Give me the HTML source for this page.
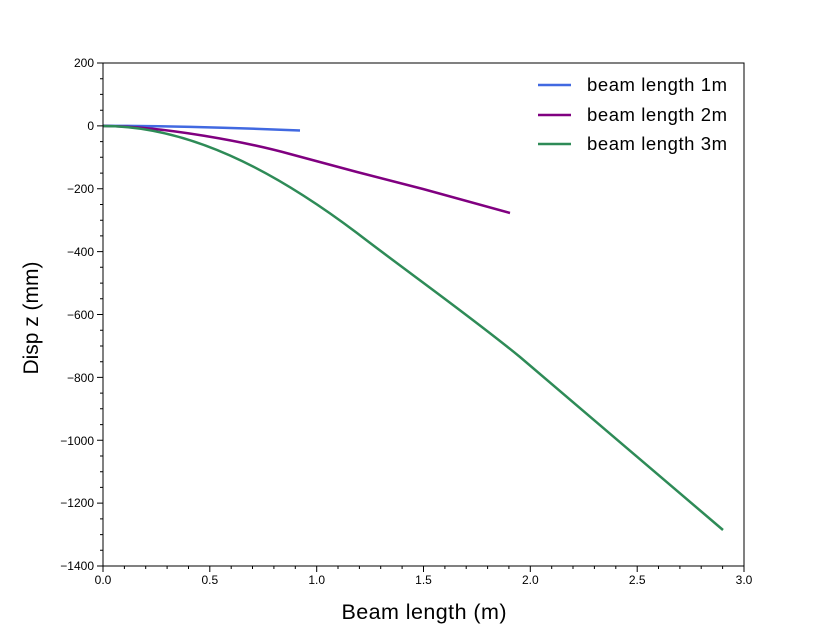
<!DOCTYPE html>
<html><head><meta charset="utf-8"><style>body{margin:0;background:#fff}svg{display:block}</style></head>
<body>
<svg width="827" height="630" xmlns="http://www.w3.org/2000/svg" font-family="Liberation Sans, Arial, sans-serif">
<rect width="827" height="630" fill="#fff"/>
<g fill="none" stroke-width="2.5" stroke-linejoin="round">
<path stroke="#4169e1" d="M103,125.7 Q200,126.3 300,130.5"/>
<path stroke="#800080" d="M103,126 C165,126 250,143 290,154 L357,172 L423,189 L510,213"/>
<path stroke="#2e8b57" d="M103,126 C188,126 272,169 357,233 C405,270 470,316 520,357 L723,530"/>
</g>
<rect x="103" y="63" width="641" height="503" fill="none" stroke="#000" stroke-width="1"/>
<g stroke="#000" stroke-width="1">
<path d="M103 566v6M209.8 566v6M316.7 566v6M423.5 566v6M530.3 566v6M637.2 566v6M744 566v6"/>
<path d="M124.4 566v3M145.7 566v3M167.1 566v3M188.5 566v3M231.2 566v3M252.5 566v3M273.9 566v3M295.3 566v3M338 566v3M359.4 566v3M380.7 566v3M402.1 566v3M444.9 566v3M466.2 566v3M487.6 566v3M508.9 566v3M551.7 566v3M573 566v3M594.4 566v3M615.8 566v3M658.5 566v3M679.9 566v3M701.2 566v3M722.6 566v3"/>
<path d="M97 63h6M97 125.9h6M97 188.8h6M97 251.6h6M97 314.5h6M97 377.4h6M97 440.3h6M97 503.1h6M97 566h6"/>
<path d="M100 78.7h3M100 94.4h3M100 110.2h3M100 141.6h3M100 157.3h3M100 173.1h3M100 204.5h3M100 220.2h3M100 235.9h3M100 267.3h3M100 283.1h3M100 298.8h3M100 330.2h3M100 346h3M100 361.7h3M100 393.1h3M100 408.8h3M100 424.6h3M100 456h3M100 471.7h3M100 487.4h3M100 518.9h3M100 534.6h3M100 550.3h3"/>
</g>
<g font-size="12" fill="#000" text-anchor="end">
<text x="94" y="67">200</text><text x="94" y="130">0</text><text x="94" y="193">−200</text><text x="94" y="256">−400</text><text x="94" y="319">−600</text><text x="94" y="382">−800</text><text x="94" y="445">−1000</text><text x="94" y="507">−1200</text><text x="94" y="570">−1400</text>
</g>
<g font-size="12" fill="#000" text-anchor="middle">
<text x="103" y="584">0.0</text><text x="209.8" y="584">0.5</text><text x="316.7" y="584">1.0</text><text x="423.5" y="584">1.5</text><text x="530.3" y="584">2.0</text><text x="637.2" y="584">2.5</text><text x="744" y="584">3.0</text>
</g>
<text x="424" y="619" font-size="21.5" text-anchor="middle" textLength="165">Beam length (m)</text>
<text transform="translate(38,318) rotate(-90)" font-size="21" text-anchor="middle" textLength="113">Disp z (mm)</text>
<g stroke-width="2.5">
<line x1="538" x2="571" y1="85" y2="85" stroke="#4169e1"/>
<line x1="538" x2="571" y1="115" y2="115" stroke="#800080"/>
<line x1="538" x2="571" y1="144" y2="144" stroke="#2e8b57"/>
</g>
<g font-size="18.5" fill="#000">
<text x="587" y="91" textLength="140">beam length 1m</text><text x="587" y="121" textLength="140">beam length 2m</text><text x="587" y="150" textLength="140">beam length 3m</text>
</g>
</svg>
</body></html>
